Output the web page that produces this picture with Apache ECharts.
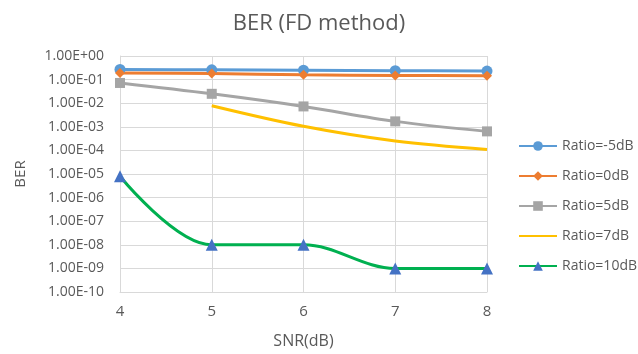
<!DOCTYPE html>
<html>
<head>
<meta charset="utf-8">
<script src="https://cdn.jsdelivr.net/npm/echarts@6/dist/echarts.min.js"></script>
<style>
  html, body { margin: 0; padding: 0; background: #fff; }
  #chart { width: 638px; height: 354px; }
</style>
</head>
<body>
<div id="chart"></div>
<script>
// SNR points (dB)
const snr = [4, 5, 6, 7, 8];

// Bit error rate per interference ratio
const berM5 = [0.27, 0.26, 0.25, 0.24, 0.23];
const ber0 = [0.19, 0.18, 0.16, 0.15, 0.145];
const ber5 = [0.072, 0.025, 0.0073, 0.0017, 0.00064];
const ber7 = [null, 0.0078, 0.00105, 0.00025, 0.00011];
const ber10 = [8e-6, 1e-8, 1e-8, 1e-9, 1e-9];

const seriesNames = ['Ratio=-5dB', 'Ratio=0dB', 'Ratio=5dB', 'Ratio=7dB', 'Ratio=10dB'];
const yTickLabels = ['1.00E+00','1.00E-01','1.00E-02','1.00E-03','1.00E-04','1.00E-05',
                     '1.00E-06','1.00E-07','1.00E-08','1.00E-09','1.00E-10'];

const font = 'Open Sans, Liberation Sans, sans-serif';
const textColor = '#595959';

function pairs(vals) {
  return snr.map((x, i) => vals[i] == null ? null : [x, vals[i]]).filter(p => p);
}

function makeSeries(name, vals, lineColor, markColor, symbol, size) {
  return {
    name: name,
    type: 'line',
    data: pairs(vals),
    smooth: 0.35,
    symbol: symbol,
    symbolSize: size,
    showSymbol: symbol !== 'none',
    lineStyle: { color: lineColor, width: 3 },
    itemStyle: { color: markColor, borderWidth: 0 },
    emphasis: { disabled: true }
  };
}

const chart = echarts.init(document.getElementById('chart'), null, { renderer: 'canvas' });
chart.setOption({
  animation: false,
  backgroundColor: '#ffffff',
  title: {
    text: 'BER (FD method)',
    left: 'center',
    top: 8,
    textStyle: { fontFamily: font, fontSize: 22, fontWeight: 'normal', color: textColor }
  },
  legend: {
    orient: 'vertical',
    left: 518,
    top: 139,
    padding: 0,
    itemWidth: 38,
    itemHeight: 12,
    itemGap: 16,
    textStyle: { fontFamily: font, fontSize: 14, color: textColor },
    data: [
      seriesNames[0],
      seriesNames[1],
      seriesNames[2],
      { name: seriesNames[3], itemStyle: { opacity: 0 } },
      seriesNames[4]
    ]
  },
  grid: { left: 120, right: 151, top: 56, bottom: 58 },
  xAxis: {
    type: 'value',
    min: 4,
    max: 8,
    interval: 1,
    name: 'SNR(dB)',
    nameLocation: 'middle',
    nameGap: 41,
    nameTextStyle: { fontFamily: font, fontSize: 16, color: textColor },
    axisLine: { lineStyle: { color: '#d9d9d9', width: 1 } },
    axisTick: { show: false },
    axisLabel: { fontFamily: font, fontSize: 15, color: textColor, margin: 12 },
    splitLine: { show: true, lineStyle: { color: '#d9d9d9', width: 1 } }
  },
  yAxis: {
    type: 'log',
    logBase: 10,
    min: 1e-10,
    max: 1,
    interval: 1,
    name: 'BER',
    nameLocation: 'middle',
    nameGap: 92,
    nameRotate: 90,
    nameTextStyle: { fontFamily: font, fontSize: 15, color: textColor },
    axisLine: { show: true, lineStyle: { color: '#d9d9d9', width: 1 } },
    axisTick: { show: false },
    axisLabel: {
      fontFamily: font, fontSize: 14, color: textColor, margin: 16,
      formatter: function (v) {
        const e = Math.round(Math.log10(v));
        return yTickLabels[-e] || '';
      }
    },
    splitLine: { show: true, lineStyle: { color: '#d9d9d9', width: 1 } }
  },
  series: [
    makeSeries(seriesNames[0], berM5, '#5b9bd5', '#5b9bd5', 'circle', 11),
    makeSeries(seriesNames[1], ber0, '#ed7d31', '#ed7d31', 'diamond', 10),
    makeSeries(seriesNames[2], ber5, '#a5a5a5', '#a5a5a5', 'rect', 10),
    makeSeries(seriesNames[3], ber7, '#ffc000', '#ffc000', 'none', 0),
    makeSeries(seriesNames[4], ber10, '#00b050', '#4472c4', 'triangle', 12)
  ]
});
</script>
</body>
</html>
